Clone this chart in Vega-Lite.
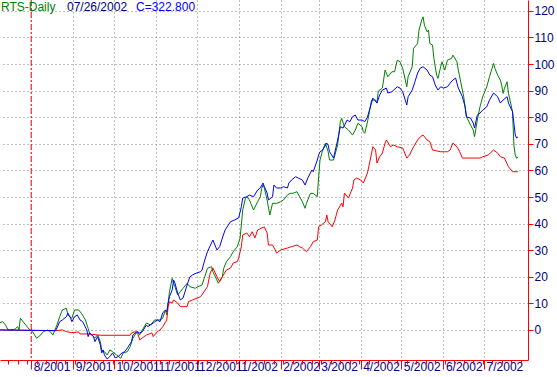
{
"$schema":"https://vega.github.io/schema/vega-lite/v6.json",
"width":528,"height":360,"padding":{"left":0,"top":0,"right":29,"bottom":17},"autosize":{"type":"none"},"background":"white",
"config":{"view":{"stroke":null},"font":"Liberation Sans","axisY":{"labelOverlap":false}},
"resolve":{"axis":{"x":"independent","y":"independent"}},
"layer":[
{"data":{"format":{"parse":{"date":"utc:'%Y-%j'"}},"values":[
{"date":"2001-190","series":"RTS","value":2.74},{"date":"2001-192","series":"RTS","value":3.12},{"date":"2001-194","series":"RTS","value":1.88},{"date":"2001-196","series":"RTS","value":0},{"date":"2001-201","series":"RTS","value":0.26},{"date":"2001-203","series":"RTS","value":1.24},{"date":"2001-204","series":"RTS","value":0},{"date":"2001-205","series":"RTS","value":4.4},{"date":"2001-207","series":"RTS","value":3.12},{"date":"2001-210","series":"RTS","value":1.24},{"date":"2001-212","series":"RTS","value":0},{"date":"2001-214","series":"RTS","value":-0.64},{"date":"2001-217","series":"RTS","value":-3.12},{"date":"2001-220","series":"RTS","value":-1.88},{"date":"2001-222","series":"RTS","value":-0.64},{"date":"2001-225","series":"RTS","value":0},{"date":"2001-227","series":"RTS","value":-0.64},{"date":"2001-229","series":"RTS","value":-1.88},{"date":"2001-232","series":"RTS","value":1.88},{"date":"2001-234","series":"RTS","value":5.0},{"date":"2001-236","series":"RTS","value":7.52},{"date":"2001-239","series":"RTS","value":8.16},{"date":"2001-240","series":"RTS","value":5.64},{"date":"2001-243","series":"RTS","value":4.4},{"date":"2001-245","series":"RTS","value":7.52},{"date":"2001-248","series":"RTS","value":7.52},{"date":"2001-250","series":"RTS","value":6.28},{"date":"2001-253","series":"RTS","value":3.76},{"date":"2001-255","series":"RTS","value":0.64},{"date":"2001-256","series":"RTS","value":-1.13},{"date":"2001-260","series":"RTS","value":-3.01},{"date":"2001-262","series":"RTS","value":-1.88},{"date":"2001-264","series":"RTS","value":-4.4},{"date":"2001-265","series":"RTS","value":-7.52},{"date":"2001-267","series":"RTS","value":-8.16},{"date":"2001-269","series":"RTS","value":-9.4},{"date":"2001-271","series":"RTS","value":-7.52},{"date":"2001-273","series":"RTS","value":-8.16},{"date":"2001-276","series":"RTS","value":-9.4},{"date":"2001-279","series":"RTS","value":-10.64},{"date":"2001-281","series":"RTS","value":-8.65},{"date":"2001-284","series":"RTS","value":-8.16},{"date":"2001-286","series":"RTS","value":-6.28},{"date":"2001-288","series":"RTS","value":-3.12},{"date":"2001-291","series":"RTS","value":-0.64},{"date":"2001-293","series":"RTS","value":-1.88},{"date":"2001-295","series":"RTS","value":0},{"date":"2001-298","series":"RTS","value":2.63},{"date":"2001-301","series":"RTS","value":1.88},{"date":"2001-304","series":"RTS","value":3.76},{"date":"2001-308","series":"RTS","value":3.76},{"date":"2001-310","series":"RTS","value":4.4},{"date":"2001-312","series":"RTS","value":7.52},{"date":"2001-313","series":"RTS","value":5.64},{"date":"2001-315","series":"RTS","value":14.4},{"date":"2001-317","series":"RTS","value":19.44},{"date":"2001-318","series":"RTS","value":17.56},{"date":"2001-319","series":"RTS","value":16.28},{"date":"2001-321","series":"RTS","value":13.16},{"date":"2001-323","series":"RTS","value":14.4},{"date":"2001-325","series":"RTS","value":15.68},{"date":"2001-328","series":"RTS","value":17.56},{"date":"2001-330","series":"RTS","value":16.28},{"date":"2001-334","series":"RTS","value":15.68},{"date":"2001-336","series":"RTS","value":16.28},{"date":"2001-339","series":"RTS","value":16.92},{"date":"2001-341","series":"RTS","value":20.04},{"date":"2001-343","series":"RTS","value":23.2},{"date":"2001-346","series":"RTS","value":23.8},{"date":"2001-347","series":"RTS","value":21.92},{"date":"2001-350","series":"RTS","value":18.8},{"date":"2001-351","series":"RTS","value":17.56},{"date":"2001-354","series":"RTS","value":20.04},{"date":"2001-355","series":"RTS","value":23.2},{"date":"2001-357","series":"RTS","value":25.68},{"date":"2001-360","series":"RTS","value":27.56},{"date":"2001-362","series":"RTS","value":29.44},{"date":"2001-365","series":"RTS","value":31.32},{"date":"2002-002","series":"RTS","value":34.47},{"date":"2002-003","series":"RTS","value":39.47},{"date":"2002-004","series":"RTS","value":45.11},{"date":"2002-006","series":"RTS","value":49.51},{"date":"2002-007","series":"RTS","value":50.11},{"date":"2002-009","series":"RTS","value":48.87},{"date":"2002-012","series":"RTS","value":45.11},{"date":"2002-015","series":"RTS","value":48.23},{"date":"2002-017","series":"RTS","value":50.11},{"date":"2002-018","series":"RTS","value":53.27},{"date":"2002-019","series":"RTS","value":54.51},{"date":"2002-020","series":"RTS","value":53.27},{"date":"2002-022","series":"RTS","value":48.87},{"date":"2002-024","series":"RTS","value":43.23},{"date":"2002-026","series":"RTS","value":47.63},{"date":"2002-029","series":"RTS","value":47.63},{"date":"2002-032","series":"RTS","value":48.23},{"date":"2002-034","series":"RTS","value":48.87},{"date":"2002-037","series":"RTS","value":50.75},{"date":"2002-039","series":"RTS","value":51.39},{"date":"2002-041","series":"RTS","value":51.39},{"date":"2002-044","series":"RTS","value":51.99},{"date":"2002-046","series":"RTS","value":50.11},{"date":"2002-048","series":"RTS","value":48.23},{"date":"2002-050","series":"RTS","value":45.75},{"date":"2002-051","series":"RTS","value":47.63},{"date":"2002-054","series":"RTS","value":51.39},{"date":"2002-056","series":"RTS","value":51.39},{"date":"2002-059","series":"RTS","value":50.11},{"date":"2002-060","series":"RTS","value":57.63},{"date":"2002-061","series":"RTS","value":63.91},{"date":"2002-063","series":"RTS","value":67.67},{"date":"2002-065","series":"RTS","value":70.19},{"date":"2002-067","series":"RTS","value":67.03},{"date":"2002-068","series":"RTS","value":63.91},{"date":"2002-071","series":"RTS","value":63.91},{"date":"2002-074","series":"RTS","value":69.55},{"date":"2002-076","series":"RTS","value":78.31},{"date":"2002-077","series":"RTS","value":79.59},{"date":"2002-079","series":"RTS","value":76.43},{"date":"2002-082","series":"RTS","value":75.19},{"date":"2002-085","series":"RTS","value":73.31},{"date":"2002-087","series":"RTS","value":75.19},{"date":"2002-089","series":"RTS","value":77.71},{"date":"2002-092","series":"RTS","value":76.43},{"date":"2002-093","series":"RTS","value":74.55},{"date":"2002-094","series":"RTS","value":73.95},{"date":"2002-096","series":"RTS","value":78.2},{"date":"2002-099","series":"RTS","value":86.47},{"date":"2002-102","series":"RTS","value":86.47},{"date":"2002-103","series":"RTS","value":85.34},{"date":"2002-104","series":"RTS","value":89.85},{"date":"2002-107","series":"RTS","value":90.98},{"date":"2002-109","series":"RTS","value":97.74},{"date":"2002-111","series":"RTS","value":95.23},{"date":"2002-114","series":"RTS","value":97.11},{"date":"2002-116","series":"RTS","value":97.11},{"date":"2002-118","series":"RTS","value":101.5},{"date":"2002-120","series":"RTS","value":100.86},{"date":"2002-122","series":"RTS","value":98.38},{"date":"2002-125","series":"RTS","value":91.47},{"date":"2002-126","series":"RTS","value":95.23},{"date":"2002-129","series":"RTS","value":98.98},{"date":"2002-130","series":"RTS","value":105.9},{"date":"2002-133","series":"RTS","value":107.78},{"date":"2002-134","series":"RTS","value":112.78},{"date":"2002-136","series":"RTS","value":116.54},{"date":"2002-137","series":"RTS","value":117.78},{"date":"2002-138","series":"RTS","value":114.66},{"date":"2002-140","series":"RTS","value":112.14},{"date":"2002-141","series":"RTS","value":112.78},{"date":"2002-142","series":"RTS","value":107.78},{"date":"2002-144","series":"RTS","value":107.14},{"date":"2002-145","series":"RTS","value":102.14},{"date":"2002-147","series":"RTS","value":95.86},{"date":"2002-148","series":"RTS","value":94.62},{"date":"2002-150","series":"RTS","value":98.98},{"date":"2002-151","series":"RTS","value":100.86},{"date":"2002-153","series":"RTS","value":97.74},{"date":"2002-155","series":"RTS","value":101.5},{"date":"2002-158","series":"RTS","value":102.14},{"date":"2002-159","series":"RTS","value":103.38},{"date":"2002-162","series":"RTS","value":100.86},{"date":"2002-163","series":"RTS","value":97.74},{"date":"2002-166","series":"RTS","value":90.23},{"date":"2002-167","series":"RTS","value":87.71},{"date":"2002-169","series":"RTS","value":80.19},{"date":"2002-172","series":"RTS","value":77.07},{"date":"2002-174","series":"RTS","value":75.19},{"date":"2002-175","series":"RTS","value":72.67},{"date":"2002-177","series":"RTS","value":78.95},{"date":"2002-179","series":"RTS","value":83.95},{"date":"2002-181","series":"RTS","value":87.71},{"date":"2002-184","series":"RTS","value":91.47},{"date":"2002-186","series":"RTS","value":95.23},{"date":"2002-189","series":"RTS","value":100.26},{"date":"2002-190","series":"RTS","value":98.38},{"date":"2002-192","series":"RTS","value":95.86},{"date":"2002-194","series":"RTS","value":93.98},{"date":"2002-195","series":"RTS","value":92.11},{"date":"2002-196","series":"RTS","value":88.98},{"date":"2002-197","series":"RTS","value":90.86},{"date":"2002-199","series":"RTS","value":93.35},{"date":"2002-200","series":"RTS","value":88.98},{"date":"2002-203","series":"RTS","value":82.07},{"date":"2002-204","series":"RTS","value":69.55},{"date":"2002-205","series":"RTS","value":65.79},{"date":"2002-206","series":"RTS","value":64.55},{"date":"2002-207","series":"RTS","value":65.15},
{"date":"2001-190","series":"Series 3","value":0},{"date":"2001-231","series":"Series 3","value":-0.26},{"date":"2001-236","series":"Series 3","value":0},{"date":"2001-239","series":"Series 3","value":-0.64},{"date":"2001-243","series":"Series 3","value":-1.02},{"date":"2001-248","series":"Series 3","value":-0.75},{"date":"2001-249","series":"Series 3","value":-1.5},{"date":"2001-255","series":"Series 3","value":-1.5},{"date":"2001-264","series":"Series 3","value":-2.0},{"date":"2001-286","series":"Series 3","value":-2.0},{"date":"2001-287","series":"Series 3","value":-1.13},{"date":"2001-290","series":"Series 3","value":-0.64},{"date":"2001-292","series":"Series 3","value":-1.88},{"date":"2001-293","series":"Series 3","value":-3.76},{"date":"2001-295","series":"Series 3","value":-3.0},{"date":"2001-298","series":"Series 3","value":-1.88},{"date":"2001-302","series":"Series 3","value":-1.13},{"date":"2001-303","series":"Series 3","value":-2.52},{"date":"2001-306","series":"Series 3","value":-0.64},{"date":"2001-308","series":"Series 3","value":0},{"date":"2001-310","series":"Series 3","value":1.24},{"date":"2001-313","series":"Series 3","value":3.76},{"date":"2001-314","series":"Series 3","value":8.76},{"date":"2001-315","series":"Series 3","value":10.64},{"date":"2001-317","series":"Series 3","value":10.15},{"date":"2001-318","series":"Series 3","value":11.28},{"date":"2001-321","series":"Series 3","value":10.15},{"date":"2001-323","series":"Series 3","value":8.76},{"date":"2001-328","series":"Series 3","value":8.76},{"date":"2001-329","series":"Series 3","value":10.64},{"date":"2001-332","series":"Series 3","value":11.28},{"date":"2001-338","series":"Series 3","value":12.52},{"date":"2001-343","series":"Series 3","value":16.28},{"date":"2001-345","series":"Series 3","value":21.43},{"date":"2001-347","series":"Series 3","value":23.31},{"date":"2001-350","series":"Series 3","value":20.04},{"date":"2001-352","series":"Series 3","value":18.16},{"date":"2001-354","series":"Series 3","value":20.04},{"date":"2001-357","series":"Series 3","value":22.56},{"date":"2001-360","series":"Series 3","value":23.31},{"date":"2001-362","series":"Series 3","value":25.19},{"date":"2001-365","series":"Series 3","value":25.68},{"date":"2002-001","series":"Series 3","value":27.07},{"date":"2002-003","series":"Series 3","value":31.32},{"date":"2002-004","series":"Series 3","value":35.71},{"date":"2002-007","series":"Series 3","value":36.47},{"date":"2002-009","series":"Series 3","value":35.08},{"date":"2002-011","series":"Series 3","value":36.95},{"date":"2002-013","series":"Series 3","value":34.59},{"date":"2002-015","series":"Series 3","value":37.59},{"date":"2002-018","series":"Series 3","value":38.35},{"date":"2002-020","series":"Series 3","value":38.72},{"date":"2002-022","series":"Series 3","value":36.47},{"date":"2002-023","series":"Series 3","value":31.95},{"date":"2002-026","series":"Series 3","value":31.95},{"date":"2002-028","series":"Series 3","value":30.08},{"date":"2002-029","series":"Series 3","value":28.95},{"date":"2002-032","series":"Series 3","value":30.08},{"date":"2002-037","series":"Series 3","value":30.83},{"date":"2002-040","series":"Series 3","value":31.32},{"date":"2002-044","series":"Series 3","value":31.95},{"date":"2002-046","series":"Series 3","value":31.32},{"date":"2002-048","series":"Series 3","value":30.83},{"date":"2002-051","series":"Series 3","value":29.44},{"date":"2002-054","series":"Series 3","value":31.32},{"date":"2002-056","series":"Series 3","value":33.2},{"date":"2002-059","series":"Series 3","value":33.83},{"date":"2002-060","series":"Series 3","value":38.83},{"date":"2002-062","series":"Series 3","value":39.47},{"date":"2002-065","series":"Series 3","value":40.71},{"date":"2002-066","series":"Series 3","value":43.23},{"date":"2002-067","series":"Series 3","value":40.71},{"date":"2002-070","series":"Series 3","value":38.83},{"date":"2002-072","series":"Series 3","value":41.35},{"date":"2002-074","series":"Series 3","value":45.11},{"date":"2002-077","series":"Series 3","value":47.74},{"date":"2002-078","series":"Series 3","value":46.35},{"date":"2002-079","series":"Series 3","value":51.5},{"date":"2002-082","series":"Series 3","value":49.62},{"date":"2002-085","series":"Series 3","value":53.38},{"date":"2002-086","series":"Series 3","value":56.39},{"date":"2002-088","series":"Series 3","value":57.14},{"date":"2002-091","series":"Series 3","value":56.39},{"date":"2002-093","series":"Series 3","value":55.26},{"date":"2002-096","series":"Series 3","value":59.02},{"date":"2002-098","series":"Series 3","value":63.91},{"date":"2002-100","series":"Series 3","value":68.91},{"date":"2002-102","series":"Series 3","value":67.67},{"date":"2002-103","series":"Series 3","value":62.78},{"date":"2002-105","series":"Series 3","value":65.15},{"date":"2002-107","series":"Series 3","value":66.54},{"date":"2002-109","series":"Series 3","value":70.3},{"date":"2002-110","series":"Series 3","value":71.43},{"date":"2002-113","series":"Series 3","value":68.91},{"date":"2002-115","series":"Series 3","value":69.55},{"date":"2002-118","series":"Series 3","value":68.91},{"date":"2002-122","series":"Series 3","value":68.42},{"date":"2002-125","series":"Series 3","value":64.66},{"date":"2002-127","series":"Series 3","value":65.79},{"date":"2002-130","series":"Series 3","value":68.91},{"date":"2002-133","series":"Series 3","value":71.43},{"date":"2002-135","series":"Series 3","value":72.67},{"date":"2002-137","series":"Series 3","value":73.31},{"date":"2002-140","series":"Series 3","value":71.43},{"date":"2002-142","series":"Series 3","value":70.79},{"date":"2002-144","series":"Series 3","value":67.67},{"date":"2002-150","series":"Series 3","value":67.03},{"date":"2002-155","series":"Series 3","value":67.03},{"date":"2002-157","series":"Series 3","value":67.67},{"date":"2002-159","series":"Series 3","value":70.3},{"date":"2002-162","series":"Series 3","value":68.91},{"date":"2002-164","series":"Series 3","value":67.03},{"date":"2002-166","series":"Series 3","value":64.66},{"date":"2002-169","series":"Series 3","value":64.66},{"date":"2002-179","series":"Series 3","value":64.66},{"date":"2002-181","series":"Series 3","value":65.15},{"date":"2002-185","series":"Series 3","value":65.79},{"date":"2002-189","series":"Series 3","value":67.67},{"date":"2002-192","series":"Series 3","value":66.54},{"date":"2002-194","series":"Series 3","value":65.15},{"date":"2002-197","series":"Series 3","value":64.66},{"date":"2002-200","series":"Series 3","value":61.39},{"date":"2002-203","series":"Series 3","value":59.51},{"date":"2002-207","series":"Series 3","value":59.51},
{"date":"2001-190","series":"Series 2","value":0},{"date":"2001-231","series":"Series 2","value":-0.26},{"date":"2001-233","series":"Series 2","value":1.88},{"date":"2001-234","series":"Series 2","value":3.12},{"date":"2001-236","series":"Series 2","value":3.76},{"date":"2001-239","series":"Series 2","value":5.0},{"date":"2001-240","series":"Series 2","value":6.39},{"date":"2001-242","series":"Series 2","value":4.51},{"date":"2001-243","series":"Series 2","value":3.12},{"date":"2001-245","series":"Series 2","value":5.0},{"date":"2001-247","series":"Series 2","value":5.64},{"date":"2001-249","series":"Series 2","value":3.76},{"date":"2001-251","series":"Series 2","value":3.12},{"date":"2001-254","series":"Series 2","value":0},{"date":"2001-255","series":"Series 2","value":-2.52},{"date":"2001-256","series":"Series 2","value":-1.13},{"date":"2001-259","series":"Series 2","value":-2.52},{"date":"2001-260","series":"Series 2","value":-4.4},{"date":"2001-262","series":"Series 2","value":-2.52},{"date":"2001-264","series":"Series 2","value":-5.64},{"date":"2001-265","series":"Series 2","value":-8.65},{"date":"2001-266","series":"Series 2","value":-7.52},{"date":"2001-267","series":"Series 2","value":-9.4},{"date":"2001-269","series":"Series 2","value":-10.9},{"date":"2001-271","series":"Series 2","value":-10.04},{"date":"2001-273","series":"Series 2","value":-8.65},{"date":"2001-275","series":"Series 2","value":-10.53},{"date":"2001-277","series":"Series 2","value":-10.04},{"date":"2001-280","series":"Series 2","value":-8.65},{"date":"2001-282","series":"Series 2","value":-8.16},{"date":"2001-284","series":"Series 2","value":-6.77},{"date":"2001-287","series":"Series 2","value":-4.4},{"date":"2001-288","series":"Series 2","value":-1.88},{"date":"2001-291","series":"Series 2","value":-0.64},{"date":"2001-293","series":"Series 2","value":-1.13},{"date":"2001-295","series":"Series 2","value":-0.64},{"date":"2001-298","series":"Series 2","value":1.88},{"date":"2001-299","series":"Series 2","value":1.24},{"date":"2001-303","series":"Series 2","value":2.63},{"date":"2001-306","series":"Series 2","value":3.76},{"date":"2001-308","series":"Series 2","value":3.12},{"date":"2001-310","series":"Series 2","value":6.39},{"date":"2001-312","series":"Series 2","value":7.52},{"date":"2001-313","series":"Series 2","value":6.88},{"date":"2001-314","series":"Series 2","value":10.15},{"date":"2001-315","series":"Series 2","value":12.52},{"date":"2001-317","series":"Series 2","value":15.04},{"date":"2001-318","series":"Series 2","value":18.8},{"date":"2001-319","series":"Series 2","value":17.67},{"date":"2001-321","series":"Series 2","value":13.91},{"date":"2001-323","series":"Series 2","value":11.28},{"date":"2001-325","series":"Series 2","value":12.03},{"date":"2001-328","series":"Series 2","value":16.92},{"date":"2001-330","series":"Series 2","value":19.92},{"date":"2001-332","series":"Series 2","value":20.68},{"date":"2001-335","series":"Series 2","value":21.43},{"date":"2001-338","series":"Series 2","value":21.92},{"date":"2001-339","series":"Series 2","value":22.56},{"date":"2001-341","series":"Series 2","value":26.32},{"date":"2001-343","series":"Series 2","value":29.44},{"date":"2001-347","series":"Series 2","value":33.83},{"date":"2001-350","series":"Series 2","value":30.08},{"date":"2001-352","series":"Series 2","value":31.32},{"date":"2001-354","series":"Series 2","value":34.59},{"date":"2001-356","series":"Series 2","value":37.59},{"date":"2001-360","series":"Series 2","value":40.71},{"date":"2001-363","series":"Series 2","value":41.35},{"date":"2002-001","series":"Series 2","value":42.11},{"date":"2002-003","series":"Series 2","value":46.35},{"date":"2002-004","series":"Series 2","value":49.62},{"date":"2002-007","series":"Series 2","value":50.11},{"date":"2002-009","series":"Series 2","value":50.75},{"date":"2002-012","series":"Series 2","value":50.11},{"date":"2002-015","series":"Series 2","value":52.63},{"date":"2002-017","series":"Series 2","value":53.38},{"date":"2002-019","series":"Series 2","value":55.26},{"date":"2002-020","series":"Series 2","value":53.87},{"date":"2002-022","series":"Series 2","value":51.5},{"date":"2002-023","series":"Series 2","value":48.87},{"date":"2002-026","series":"Series 2","value":50.11},{"date":"2002-027","series":"Series 2","value":54.51},{"date":"2002-029","series":"Series 2","value":53.38},{"date":"2002-032","series":"Series 2","value":53.38},{"date":"2002-034","series":"Series 2","value":53.87},{"date":"2002-037","series":"Series 2","value":53.38},{"date":"2002-038","series":"Series 2","value":55.26},{"date":"2002-040","series":"Series 2","value":56.39},{"date":"2002-043","series":"Series 2","value":57.63},{"date":"2002-045","series":"Series 2","value":57.14},{"date":"2002-048","series":"Series 2","value":56.39},{"date":"2002-050","series":"Series 2","value":54.51},{"date":"2002-052","series":"Series 2","value":57.14},{"date":"2002-055","series":"Series 2","value":60.15},{"date":"2002-056","series":"Series 2","value":59.51},{"date":"2002-059","series":"Series 2","value":63.91},{"date":"2002-060","series":"Series 2","value":65.79},{"date":"2002-061","series":"Series 2","value":67.03},{"date":"2002-063","series":"Series 2","value":67.67},{"date":"2002-066","series":"Series 2","value":70.3},{"date":"2002-067","series":"Series 2","value":69.55},{"date":"2002-068","series":"Series 2","value":67.03},{"date":"2002-071","series":"Series 2","value":64.66},{"date":"2002-074","series":"Series 2","value":71.43},{"date":"2002-076","series":"Series 2","value":76.43},{"date":"2002-078","series":"Series 2","value":75.94},{"date":"2002-081","series":"Series 2","value":78.95},{"date":"2002-083","series":"Series 2","value":78.31},{"date":"2002-085","series":"Series 2","value":80.19},{"date":"2002-087","series":"Series 2","value":80.83},{"date":"2002-089","series":"Series 2","value":78.95},{"date":"2002-092","series":"Series 2","value":78.95},{"date":"2002-094","series":"Series 2","value":78.31},{"date":"2002-096","series":"Series 2","value":80.08},{"date":"2002-099","series":"Series 2","value":85.34},{"date":"2002-100","series":"Series 2","value":87.22},{"date":"2002-103","series":"Series 2","value":85.34},{"date":"2002-105","series":"Series 2","value":88.35},{"date":"2002-107","series":"Series 2","value":90.23},{"date":"2002-110","series":"Series 2","value":90.98},{"date":"2002-111","series":"Series 2","value":89.1},{"date":"2002-114","series":"Series 2","value":89.59},{"date":"2002-118","series":"Series 2","value":91.47},{"date":"2002-120","series":"Series 2","value":90.98},{"date":"2002-122","series":"Series 2","value":89.59},{"date":"2002-125","series":"Series 2","value":84.59},{"date":"2002-126","series":"Series 2","value":87.71},{"date":"2002-129","series":"Series 2","value":90.23},{"date":"2002-131","series":"Series 2","value":93.35},{"date":"2002-133","series":"Series 2","value":96.62},{"date":"2002-135","series":"Series 2","value":98.5},{"date":"2002-137","series":"Series 2","value":98.98},{"date":"2002-140","series":"Series 2","value":97.74},{"date":"2002-142","series":"Series 2","value":95.86},{"date":"2002-144","series":"Series 2","value":95.23},{"date":"2002-146","series":"Series 2","value":92.11},{"date":"2002-148","series":"Series 2","value":90.23},{"date":"2002-150","series":"Series 2","value":91.47},{"date":"2002-152","series":"Series 2","value":90.98},{"date":"2002-155","series":"Series 2","value":91.47},{"date":"2002-157","series":"Series 2","value":92.86},{"date":"2002-159","series":"Series 2","value":93.98},{"date":"2002-161","series":"Series 2","value":94.74},{"date":"2002-162","series":"Series 2","value":92.86},{"date":"2002-163","series":"Series 2","value":90.98},{"date":"2002-166","series":"Series 2","value":87.71},{"date":"2002-168","series":"Series 2","value":83.95},{"date":"2002-169","series":"Series 2","value":80.19},{"date":"2002-172","series":"Series 2","value":79.7},{"date":"2002-174","series":"Series 2","value":77.82},{"date":"2002-175","series":"Series 2","value":75.94},{"date":"2002-177","series":"Series 2","value":80.83},{"date":"2002-179","series":"Series 2","value":81.58},{"date":"2002-181","series":"Series 2","value":82.71},{"date":"2002-184","series":"Series 2","value":83.95},{"date":"2002-186","series":"Series 2","value":86.47},{"date":"2002-189","series":"Series 2","value":89.1},{"date":"2002-192","series":"Series 2","value":87.71},{"date":"2002-194","series":"Series 2","value":85.34},{"date":"2002-196","series":"Series 2","value":86.47},{"date":"2002-199","series":"Series 2","value":87.71},{"date":"2002-200","series":"Series 2","value":85.34},{"date":"2002-203","series":"Series 2","value":82.07},{"date":"2002-204","series":"Series 2","value":77.82},{"date":"2002-205","series":"Series 2","value":73.31},{"date":"2002-206","series":"Series 2","value":72.18},{"date":"2002-207","series":"Series 2","value":72.67}
]},
"mark":{"type":"line","strokeWidth":1,"interpolate":"linear"},
"encoding":{
"x":{"field":"date","type":"temporal","scale":{"type":"utc","domain":[{"year":2001,"month":7,"date":9,"utc":true},{"year":2002,"month":8,"date":2,"hours":9,"minutes":36,"utc":true}]},
"axis":{"orient":"bottom","format":"%-m/%Y","values":[{"year":2001,"month":7,"date":1,"utc":true},{"year":2001,"month":8,"date":1,"utc":true},{"year":2001,"month":9,"date":1,"utc":true},{"year":2001,"month":10,"date":1,"utc":true},{"year":2001,"month":11,"date":1,"utc":true},{"year":2001,"month":12,"date":1,"utc":true},{"year":2002,"month":1,"date":1,"utc":true},{"year":2002,"month":2,"date":1,"utc":true},{"year":2002,"month":3,"date":1,"utc":true},{"year":2002,"month":4,"date":1,"utc":true},{"year":2002,"month":5,"date":1,"utc":true},{"year":2002,"month":6,"date":1,"utc":true},{"year":2002,"month":7,"date":1,"utc":true}],"grid":true,"gridColor":"#808080","gridDash":[1,3],"gridWidth":1,"domainColor":"#ff0000","domainWidth":1,"tickColor":"#ff0000","tickWidth":1,"tickSize":9,"labelColor":"#000080","labelFont":"Liberation Sans","labelFontSize":12,"labelAlign":"left","labelBaseline":"top","labelPadding":-8,"labelOffset":2,"labelOverlap":false,"labelFlush":false,"labelBound":false,"title":null}},
"y":{"field":"value","type":"quantitative","scale":{"domain":[-11.3,124.1],"nice":false,"zero":false},
"axis":{"orient":"right","values":[0,10,20,30,40,50,60,70,80,90,100,110,120],"grid":true,"gridColor":"#808080","gridDash":[1,3],"gridWidth":1,"domainColor":"#ff0000","domainWidth":1,"tickColor":"#ff0000","tickWidth":1,"tickSize":5,"labelColor":"#000080","labelFont":"Liberation Sans","labelFontSize":12,"labelAlign":"left","labelBaseline":"middle","labelPadding":1,"labelOverlap":false,"labelFlush":false,"title":null}},
"color":{"field":"series","type":"nominal","scale":{"domain":["RTS","Series 2","Series 3"],"range":["#008000","#0000ff","#ff0000"]},"legend":null}
}},
{"data":{"values":[{"base":"2001-08-01"}]},
"mark":{"type":"rule","color":"#ff0000","strokeWidth":1,"strokeDash":[6,2,2,2]},
"encoding":{"x":{"field":"base","type":"temporal",
"axis":{"orient":"bottom","tickCount":{"interval":"week","step":1},"labels":false,"domain":false,"grid":false,"tickSize":4,"tickColor":"#ff0000","tickWidth":1,"title":null}}}},
{"data":{"values":[{"label":"RTS-Daily"}]},"mark":{"type":"text","color":"#008000","font":"Liberation Sans","fontSize":12,"align":"left","baseline":"top","dx":1,"dy":2},
"encoding":{"text":{"field":"label"},"x":{"datum":{"year":2001,"month":7,"date":9,"utc":true},"type":"temporal","axis":null},"y":{"datum":124.1,"axis":null}}},
{"data":{"values":[{"label":"07/26/2002"}]},"mark":{"type":"text","color":"#000080","font":"Liberation Sans","fontSize":12,"align":"left","baseline":"top","dx":67,"dy":2},
"encoding":{"text":{"field":"label"},"x":{"datum":{"year":2001,"month":7,"date":9,"utc":true},"type":"temporal","axis":null},"y":{"datum":124.1,"axis":null}}},
{"data":{"values":[{"label":"C=322.800"}]},"mark":{"type":"text","color":"#0000ff","font":"Liberation Sans","fontSize":12,"align":"left","baseline":"top","dx":136,"dy":2},
"encoding":{"text":{"field":"label"},"x":{"datum":{"year":2001,"month":7,"date":9,"utc":true},"type":"temporal","axis":null},"y":{"datum":124.1,"axis":null}}}
]
}
